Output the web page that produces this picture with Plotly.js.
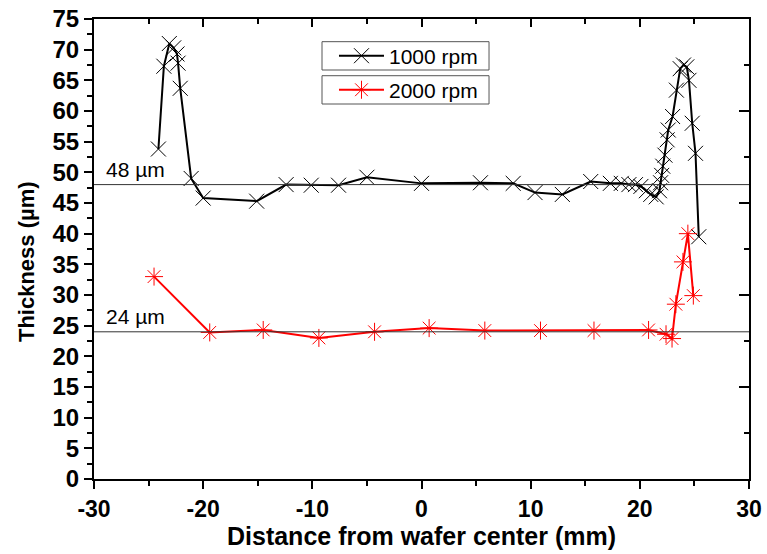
<!DOCTYPE html>
<html>
<head>
<meta charset="utf-8">
<script src="https://cdn.plot.ly/plotly-3.0.1.min.js"></script>
<style>html,body{margin:0;padding:0;background:#fff;}#chart{width:767px;height:554px;}</style>
</head>
<body>
<div id="chart"></div>
<script>
// 1000 rpm series
const x1000 = [-24.1, -23.6, -23.1, -22.7, -22.4, -22.3, -22.1, -21.1, -20.0, -15.1, -12.4, -10.1, -7.6, -5.0, 0.0, 5.4, 8.4, 10.4, 12.9, 15.5, 17.3, 18.3, 19.0, 19.6, 20.1, 20.6, 21.0, 21.5, 21.8, 21.9, 22.0, 22.1, 22.3, 22.5, 22.6, 23.0, 23.35, 23.7, 24.0, 24.3, 24.5, 24.8, 25.1, 25.4];
const y1000 = [53.8, 67.3, 71.0, 70.3, 69.3, 67.8, 63.7, 49.0, 45.8, 45.3, 48.0, 47.9, 47.9, 49.2, 48.2, 48.3, 48.2, 46.7, 46.4, 48.5, 48.2, 48.2, 48.0, 48.0, 47.7, 47.0, 46.4, 46.0, 47.0, 48.3, 49.5, 51.0, 52.8, 55.3, 56.9, 59.1, 63.4, 66.9, 67.5, 67.2, 65.0, 58.0, 53.1, 39.5];
// 2000 rpm series
const x2000 = [-24.5, -19.4, -14.5, -9.4, -4.3, 0.7, 5.8, 10.9, 15.8, 20.8, 22.4, 22.95, 23.3, 23.95, 24.4, 24.9];
const y2000 = [33.0, 23.9, 24.3, 23.0, 24.0, 24.6, 24.2, 24.2, 24.2, 24.3, 23.6, 22.9, 28.5, 35.4, 40.0, 29.9];
// reference levels
const refLevels = [48, 24];
const refLabels = ["48 µm", "24 µm"];
const seriesNames = ["1000 rpm", "2000 rpm"];
// x tick labels
const xTickVals = [-30, -20, -10, 0, 10, 20, 30];
const xTickText = ["-30", "-20", "-10", "0", "10", "20", "30"];

const FONT = "Liberation Sans, Arial, sans-serif";

const traces = [
  {
    x: x1000, y: y1000, type: 'scatter', mode: 'lines+markers', name: seriesNames[0],
    line: {color: '#000000', width: 2},
    marker: {symbol: 'x-thin-open', size: 15, color: '#000000', line: {color: '#000000', width: 1}},
    legend: 'legend'
  },
  {
    x: x2000, y: y2000, type: 'scatter', mode: 'lines+markers', name: seriesNames[1],
    line: {color: '#ff0000', width: 2},
    marker: {symbol: 'asterisk-open', size: 15, color: '#ff0000', line: {color: '#ff0000', width: 1}},
    legend: 'legend2'
  },
  {
    x: [-30, 30], y: [0, 75], xaxis: 'x2', yaxis: 'y2', type: 'scatter', mode: 'markers',
    marker: {opacity: 0}, showlegend: false, hoverinfo: 'skip'
  }
];

const shapes = refLevels.map(v => ({
  type: 'line', xref: 'paper', x0: 0, x1: 1, yref: 'y', y0: v, y1: v,
  line: {color: '#333333', width: 1}
}));
// legend frames
shapes.push(
  {type: 'rect', xref: 'paper', yref: 'paper', x0: 0.3481, x1: 0.6031, y0: 0.8891, y1: 0.9507, line: {color: '#555555', width: 1}},
  {type: 'rect', xref: 'paper', yref: 'paper', x0: 0.3481, x1: 0.6031, y0: 0.8152, y1: 0.8767, line: {color: '#555555', width: 1}}
);

const annotations = refLevels.map((v, i) => ({
  xref: 'paper', x: 0.015, xanchor: 'left',
  yref: 'y', y: v, yanchor: 'bottom', yshift: 2,
  text: refLabels[i], showarrow: false,
  font: {family: FONT, size: 21, color: '#000000'}
}));
annotations.push({
  xref: 'paper', yref: 'paper', x: -0.1038, y: 0.4717, xanchor: 'center', yanchor: 'middle',
  textangle: -90, showarrow: false, text: 'Thickness (µm)',
  font: {family: FONT, size: 22, color: '#000', weight: 'bold'}
});

const legendBase = {
  xref: 'paper', yref: 'paper', xanchor: 'left', yanchor: 'top',
  bgcolor: 'rgba(255,255,255,0)', borderwidth: 0,
  font: {family: FONT, size: 21, color: '#000000'},
  itemwidth: 45
};

const layout = {
  width: 767, height: 554, autosize: false,
  margin: {l: 94, r: 18, t: 19, b: 75, pad: 0},
  paper_bgcolor: '#ffffff', plot_bgcolor: '#ffffff',
  font: {family: FONT, color: '#000000'},
  showlegend: true,
  legend: Object.assign({}, legendBase, {x: 0.3664, y: 0.964}),
  legend2: Object.assign({}, legendBase, {x: 0.3664, y: 0.890}),
  xaxis: {
    range: [-30, 30], tickmode: 'array', tickvals: xTickVals, ticktext: xTickText,
    ticks: 'outside', ticklen: 8, tickwidth: 2, tickcolor: '#000',
    minor: {dtick: 5, tick0: -30, ticks: 'outside', ticklen: 5, tickwidth: 2, tickcolor: '#000'},
    showline: true, linewidth: 2, linecolor: '#000', showgrid: false, zeroline: false,
    tickfont: {family: FONT, size: 23, color: '#000', weight: 'bold'},
    title: {text: 'Distance from wafer center (mm)', standoff: 1, font: {family: FONT, size: 25, color: '#000', weight: 'bold'}}
  },
  yaxis: {
    range: [0, 75], dtick: 5, tick0: 0, ticks: 'outside', ticklen: 8, tickwidth: 2, tickcolor: '#000',
    minor: {dtick: 2.5, ticks: 'outside', ticklen: 5, tickwidth: 2, tickcolor: '#000'},
    showline: true, linewidth: 2, linecolor: '#000', showgrid: false, zeroline: false,
    tickfont: {family: FONT, size: 24, color: '#000', weight: 'bold'}
  },
  xaxis2: {
    overlaying: 'x', side: 'top', anchor: 'y2', range: [-30, 30], dtick: 10, tick0: -30,
    ticks: 'inside', ticklen: 8, tickwidth: 2, tickcolor: '#000', showticklabels: false,
    minor: {dtick: 5, ticks: 'inside', ticklen: 5, tickwidth: 2, tickcolor: '#000'},
    showline: true, linewidth: 2, linecolor: '#000', showgrid: false, zeroline: false
  },
  yaxis2: {
    overlaying: 'y', side: 'right', anchor: 'x2', range: [0, 75], dtick: 15, tick0: 0,
    ticks: 'inside', ticklen: 10, tickwidth: 2, tickcolor: '#000', showticklabels: false,
    minor: {dtick: 7.5, ticks: 'inside', ticklen: 5, tickwidth: 2, tickcolor: '#000'},
    showline: true, linewidth: 2, linecolor: '#000', showgrid: false, zeroline: false
  },
  shapes: shapes,
  annotations: annotations
};

Plotly.newPlot('chart', traces, layout, {displayModeBar: false, staticPlot: true});
</script>
</body>
</html>
